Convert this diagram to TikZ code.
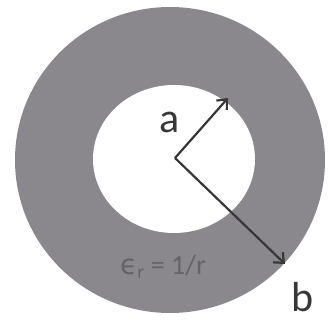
\documentclass[tikz,border=0pt]{standalone}
\usepackage{fontspec}
\setmainfont{Carlito}
\newfontfamily\dejavu{DejaVu Sans}
\usetikzlibrary{arrows.meta}
\definecolor{ringgray}{RGB}{138,136,140}
\definecolor{arrowgray}{RGB}{55,55,57}
\definecolor{epsgray}{RGB}{100,100,104}
\tikzset{
  radius arrow/.style={draw=arrowgray, line width=2.2pt, -{Straight Barb[length=8pt,width=14pt,line width=2.2pt]}},
  biglabel/.style={font=\fontsize{42}{44}\selectfont, text=arrowgray, inner sep=0pt},
  epslabel/.style={font=\fontsize{28}{30}\selectfont, text=epsgray, inner sep=0pt}
}
\begin{document}
\begin{tikzpicture}[x=1pt,y=1pt]
\useasboundingbox (0,0) rectangle (330,327);
\fill[white] (0,0) rectangle (330,327);
% dielectric ring
\fill[ringgray] (170,167) ellipse [x radius=155, y radius=153];
\fill[white] (174,168) ellipse [x radius=81, y radius=74];
% radii
\coordinate (o) at (175,169);
\coordinate (atip) at (228,229);
\coordinate (btip) at (285,63);
\draw[radius arrow] (o) -- (atip);
\draw[radius arrow] (o) -- (btip);
% labels
\node[biglabel] (alabel) at (170,205) {a};
\node[biglabel] (blabel) at (303,30) {b};
\node[epslabel] (eps) at (163,60) {{\dejavu ϵ}\textsubscript{r} = 1/r};
\end{tikzpicture}
\end{document}
